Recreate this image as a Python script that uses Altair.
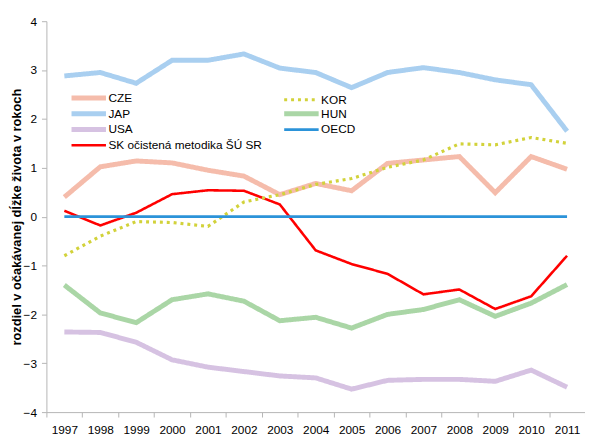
import altair as alt
import pandas as pd

years = [str(y) for y in range(1997, 2012)]
series = ["CZE", "JAP", "USA", "SK očistená metodika ŠÚ SR", "KOR", "HUN", "OECD"]

cze = [0.40, 1.02, 1.14, 1.10, 0.95, 0.83, 0.45, 0.68, 0.53, 1.09, 1.16, 1.23, 0.49, 1.23, 0.97]
jap = [2.88, 2.95, 2.73, 3.20, 3.20, 3.33, 3.04, 2.95, 2.64, 2.95, 3.05, 2.95, 2.80, 2.70, 1.75]
usa = [-2.36, -2.37, -2.57, -2.93, -3.08, -3.17, -3.26, -3.30, -3.53, -3.35, -3.33, -3.33, -3.37, -3.14, -3.49]
sk = [0.12, -0.18, 0.08, 0.46, 0.54, 0.53, 0.25, -0.69, -0.97, -1.17, -1.59, -1.49, -1.89, -1.63, -0.80]
kor = [-0.80, -0.40, -0.10, -0.12, -0.20, 0.30, 0.45, 0.66, 0.78, 1.01, 1.16, 1.49, 1.47, 1.62, 1.50]
hun = [-1.40, -1.97, -2.17, -1.70, -1.58, -1.73, -2.13, -2.06, -2.28, -2.00, -1.90, -1.70, -2.04, -1.77, -1.39]
oecd = [0.0] * 15

values = [cze, jap, usa, sk, kor, hun, oecd]
colors = ["#f5bcab", "#a9cff0", "#d6c2e2", "#ff0000", "#d2d23a", "#aad6a6", "#2b93d9"]
widths = [5, 5, 5, 2.6, 3.2, 5, 2.8]
dashes = [[1, 0], [1, 0], [1, 0], [1, 0], [3, 4], [1, 0], [1, 0]]
draw_order = [2, 3, 0, 6, 5, 1, 4]

rows = []
for s, vals, o in zip(series, values, draw_order):
    for y, v in zip(years, vals):
        rows.append({"year": y, "value": v, "series": s, "ord": o})
df = pd.DataFrame(rows)

font = "Liberation Sans Narrow, Arial Narrow, Liberation Sans, Arial"

legend = alt.Legend(
    title=None, orient="none", legendX=37, legendY=72, columns=2,
    columnPadding=11, rowPadding=-4.5, symbolSize=34, symbolType="M-6,0H6",
    labelFont=font, labelFontSize=12, labelColor="#000000", labelOffset=14,
    labelLimit=400,
)

chart = alt.Chart(df).mark_line(strokeCap="butt").encode(
    x=alt.X("year:O", title=None, scale=alt.Scale(paddingInner=0, paddingOuter=0),
            axis=alt.Axis(labelAngle=0, tickBand="extent", tickSize=5, labelPadding=8,
                          domainColor="#b5b5b5", tickColor="#b5b5b5",
                          labelFont=font, labelFontSize=12, labelColor="#000000")),
    y=alt.Y("value:Q", title="rozdiel  v očakávanej  dĺžke  života  v rokoch",
            scale=alt.Scale(domain=[-4, 4], nice=False),
            axis=alt.Axis(values=[-4, -3, -2, -1, 0, 1, 2, 3, 4], grid=False, tickSize=5,
                          labelPadding=5, domainColor="#b5b5b5", tickColor="#b5b5b5",
                          labelFont=font, labelFontSize=12, labelColor="#000000",
                          titleFont=font, titleFontSize=13, titleFontWeight="bold",
                          titleColor="#000000", titlePadding=0)),
    color=alt.Color("series:N", scale=alt.Scale(domain=series, range=colors), legend=legend),
    strokeWidth=alt.StrokeWidth("series:N", scale=alt.Scale(type="ordinal", domain=series, range=widths), legend=legend),
    strokeDash=alt.StrokeDash("series:N", scale=alt.Scale(domain=series, range=dashes), legend=legend),
    detail="ord:O",
).properties(
    width=547, height=397,
    autosize=alt.AutoSizeParams(type="none"),
    padding={"left": 39, "top": 10, "right": 0, "bottom": 30},
).configure_view(stroke=None)

chart.save("out.html", embed_options={"renderer": "svg", "actions": False})
